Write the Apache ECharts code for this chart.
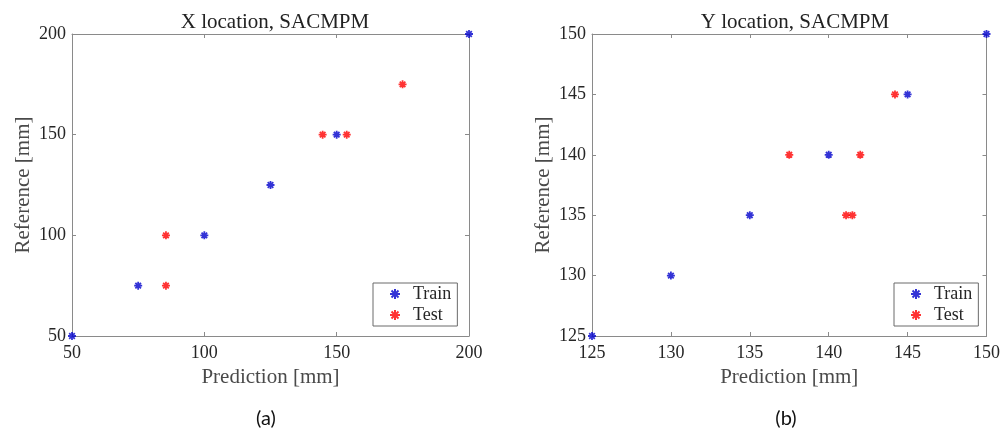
<!DOCTYPE html>
<html>
<head>
<meta charset="utf-8">
<script src="https://cdn.jsdelivr.net/npm/echarts@6/dist/echarts.min.js"></script>
<style>
  html, body { margin: 0; padding: 0; background: #fff; }
  #chart { width: 1003px; height: 433px; }
</style>
</head>
<body>
<div id="chart"></div>
<script>
// (a) X location
const xTrain = [[50, 50], [75, 75], [100, 100], [125, 125], [150, 150], [200, 200]];
const xTest = [[85.5, 100], [85.5, 75], [144.7, 150], [153.8, 150], [174.9, 175]];
// (b) Y location
const yTrain = [[125, 125], [130, 130], [135, 135], [140, 140], [145, 145], [150, 150]];
const yTest = [[137.5, 140], [142.0, 140], [141.1, 135], [141.5, 135], [144.2, 145]];

const serif = 'Liberation Serif';
const lineColor = '#8a8a8a';
const textColor = '#262626';
const star = 'path://M0,-10L0,10M-10,0L10,0M-7,-7L7,7M-7,7L7,-7';

const chart = echarts.init(document.getElementById('chart'));

function axisPair(min, max, interval, name, pos, gridIndex, isX) {
  const main = {
    type: 'value', gridIndex, min, max, interval, position: pos,
    name, nameLocation: 'middle',
    nameGap: isX ? 30 : 38,
    nameTextStyle: { fontFamily: serif, fontSize: 21, color: '#4a4a4a' },
    axisLine: { show: true, lineStyle: { color: lineColor, width: 1 } },
    axisTick: { show: true, inside: true, length: 4, lineStyle: { color: lineColor } },
    axisLabel: { fontFamily: serif, fontSize: 18, color: textColor, margin: isX ? 8 : 6 },
    splitLine: { show: false }
  };
  const other = {
    type: 'value', gridIndex, min, max, interval,
    position: isX ? 'top' : 'right',
    axisLine: { show: true, lineStyle: { color: lineColor, width: 1 } },
    axisTick: { show: true, inside: true, length: 4, lineStyle: { color: lineColor } },
    axisLabel: { show: false },
    splitLine: { show: false }
  };
  return [main, other];
}

function starSeries(name, data, color, xi, yi) {
  return {
    name, type: 'scatter', data, xAxisIndex: xi, yAxisIndex: yi,
    symbol: star, symbolSize: 8, clip: false,
    itemStyle: { color: color, borderColor: color, borderWidth: 1.8 }
  };
}

const legendBase = {
  orient: 'vertical', data: ['Train', 'Test'],
  borderColor: '#6a6a6a', borderWidth: 1, borderRadius: 0,
  padding: [2, 6, 2, 16], itemWidth: 10, itemHeight: 10, itemGap: 3,
  textStyle: { fontFamily: serif, fontSize: 18, color: textColor, padding: [0, 0, 0, 8] }
};

const option = {
  animation: false,
  title: [
    { text: 'X location, SACMPM', left: 270, top: 7, textAlign: 'center',
      textStyle: { fontFamily: serif, fontSize: 21, fontWeight: 'normal', color: '#222' } },
    { text: 'Y location, SACMPM', left: 790, top: 7, textAlign: 'center',
      textStyle: { fontFamily: serif, fontSize: 21, fontWeight: 'normal', color: '#222' } },
    { text: '(a)', left: 261, top: 404, textAlign: 'center',
      textStyle: { fontFamily: 'Lato', fontSize: 20, fontWeight: 'normal', color: '#111' } },
    { text: '(b)', left: 781, top: 404, textAlign: 'center',
      textStyle: { fontFamily: 'Lato', fontSize: 20, fontWeight: 'normal', color: '#111' } }
  ],
  grid: [
    { left: 72, top: 34, width: 397, height: 302 },
    { left: 592, top: 34, width: 397, height: 302 }
  ],
  xAxis: [
    ...axisPair(50, 200, 50, 'Prediction [mm]', 'bottom', 0, true),
    ...axisPair(125, 150, 5, 'Prediction [mm]', 'bottom', 1, true)
  ],
  yAxis: [
    ...axisPair(50, 200, 50, 'Reference [mm]', 'left', 0, false),
    ...axisPair(125, 150, 5, 'Reference [mm]', 'left', 1, false)
  ],
  legend: [
    Object.assign({}, legendBase, { left: 373, top: 283 }),
    Object.assign({}, legendBase, { left: 894, top: 283 })
  ],
  series: [
    starSeries('Train', xTrain, '#0000cc', 0, 0),
    starSeries('Test', xTest, '#ff0000', 0, 0),
    starSeries('Train', yTrain, '#0000cc', 2, 2),
    starSeries('Test', yTest, '#ff0000', 2, 2)
  ]
};

chart.setOption(option);
</script>
</body>
</html>
